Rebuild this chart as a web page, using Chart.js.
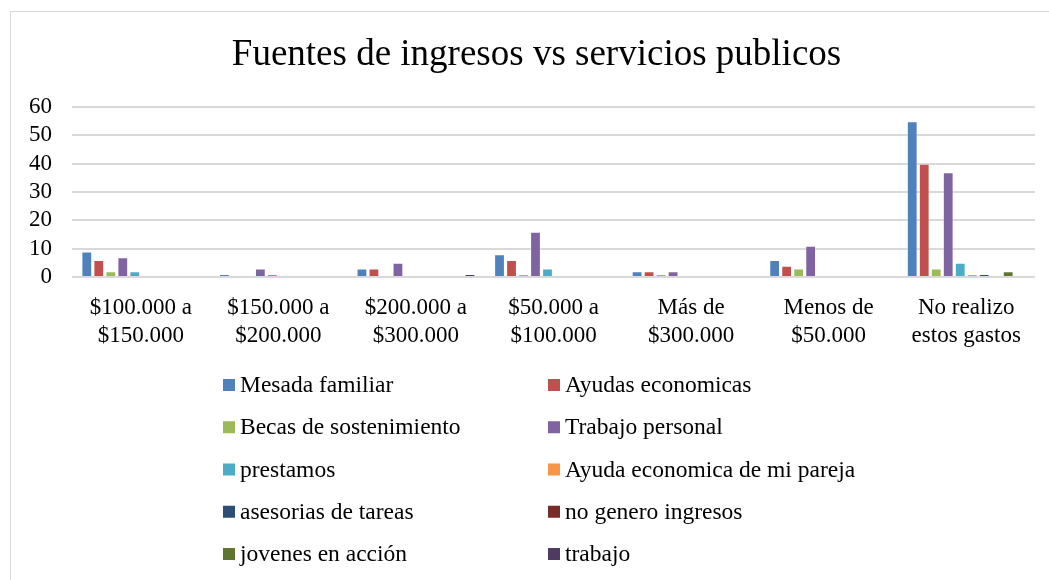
<!DOCTYPE html>
<html>
<head>
<meta charset="utf-8">
<script src="https://cdn.jsdelivr.net/npm/chart.js@4"></script>
<style>
  body { margin: 0; background: #fff; }
  #frame { position: absolute; left: 10px; top: 11px; width: 1100px; height: 600px; border: 1.5px solid #d9d9d9; }
  #wrap { position: absolute; left: 0; top: 0; width: 1049px; height: 580px; }
</style>
</head>
<body>
<div id="frame"></div>
<div id="wrap"><canvas id="myChart" width="1049" height="580"></canvas></div>
<script>
// rangos de gasto en servicios publicos
const categorias = [
  ['$100.000 a', '$150.000'],
  ['$150.000 a', '$200.000'],
  ['$200.000 a', '$300.000'],
  ['$50.000 a', '$100.000'],
  ['Más de', '$300.000'],
  ['Menos de', '$50.000'],
  ['No realizo', 'estos gastos']
];

// fuentes de ingreso (una lista por serie)
const mesadaFamiliar   = [9, 1, 3, 8, 2, 6, 55];
const ayudasEconomicas = [6, 0, 3, 6, 2, 4, 40];
const becas            = [2, 0, 0, 1, 1, 3, 3];
const trabajoPersonal  = [7, 3, 5, 16, 2, 11, 37];
const prestamos        = [2, 1, 0, 3, 0, 0, 5];
const ayudaPareja      = [0, 0, 0, 0, 0, 0, 1];
const asesorias        = [0, 0, 0, 0, 0, 0, 1];
const noGenero         = [0, 0, 0, 0, 0, 0, 0];
const jovenesAccion    = [0, 0, 0, 0, 0, 0, 2];
const trabajo          = [0, 0, 1, 0, 0, 0, 0];

const nombres = ['Mesada familiar', 'Ayudas economicas', 'Becas de sostenimiento', 'Trabajo personal',
  'prestamos', 'Ayuda economica de mi pareja', 'asesorias de tareas', 'no genero ingresos',
  'jovenes en acción', 'trabajo'];
const valores = [mesadaFamiliar, ayudasEconomicas, becas, trabajoPersonal, prestamos,
  ayudaPareja, asesorias, noGenero, jovenesAccion, trabajo];
const colores = ['#4F81BD', '#C0504D', '#9BBB59', '#8064A2', '#4BACC6',
  '#F79646', '#2C4D75', '#772C2A', '#5F7530', '#4D3B62'];

const yTicks = [0, 10, 20, 30, 40, 50, 60];

const titulo = 'Fuentes de ingresos vs servicios publicos';
const FONT = 'Liberation Serif';

// titulo y leyenda en dos columnas
const textos = {
  id: 'textos',
  afterDraw(chart) {
    const ctx = chart.ctx;
    ctx.save();
    ctx.fillStyle = '#000';
    ctx.textBaseline = 'middle';
    ctx.textAlign = 'center';
    ctx.font = '37px "' + FONT + '"';
    ctx.fillText(titulo, 536.5, 55);

    ctx.font = '23.5px "' + FONT + '"';
    ctx.textAlign = 'left';
    chart.data.datasets.forEach((ds, i) => {
      const col = i % 2, row = Math.floor(i / 2);
      const x = 223 + col * 325;
      const y = 385 + row * 42.25;
      ctx.fillStyle = ds.backgroundColor;
      ctx.fillRect(x, y - 6, 12, 12);
      ctx.fillStyle = '#000';
      ctx.fillText(ds.label, x + 17, y + 1);
    });
    ctx.restore();
  }
};

const ctx = document.getElementById('myChart');

new Chart(ctx, {
  type: 'bar',
  data: {
    labels: categorias,
    datasets: nombres.map((n, i) => ({
      label: n,
      data: valores[i],
      backgroundColor: colores[i],
      borderColor: 'rgba(255,255,255,0.35)',
      borderWidth: c => (c.raw ? 1 : 0)
    }))
  },
  options: {
    responsive: false,
    animation: false,
    layout: { padding: { left: 0, right: 14, top: 107, bottom: 223 } },
    categoryPercentage: 0.872,
    barPercentage: 0.9,
    plugins: {
      legend: { display: false },
      tooltip: { enabled: false },
      title: { display: false }
    },
    scales: {
      x: {
        grid: { display: false },
        border: { display: false },
        ticks: {
          color: '#000',
          font: { family: FONT, size: 23, lineHeight: 1.22 },
          padding: 9,
          maxRotation: 0
        },
        afterFit(scale) { scale.height = 80; }
      },
      y: {
        min: 0,
        max: 60,
        afterBuildTicks(scale) { scale.ticks = yTicks.map(v => ({ value: v })); },
        grid: { color: '#d9d9d9', lineWidth: 2, drawTicks: false },
        border: { display: false },
        ticks: {
          color: '#000',
          font: { family: FONT, size: 23 },
          padding: 20,
          autoSkip: false,
          stepSize: 10
        },
        afterFit(scale) { scale.width = 72; }
      }
    }
  },
  plugins: [textos]
});
</script>
</body>
</html>
